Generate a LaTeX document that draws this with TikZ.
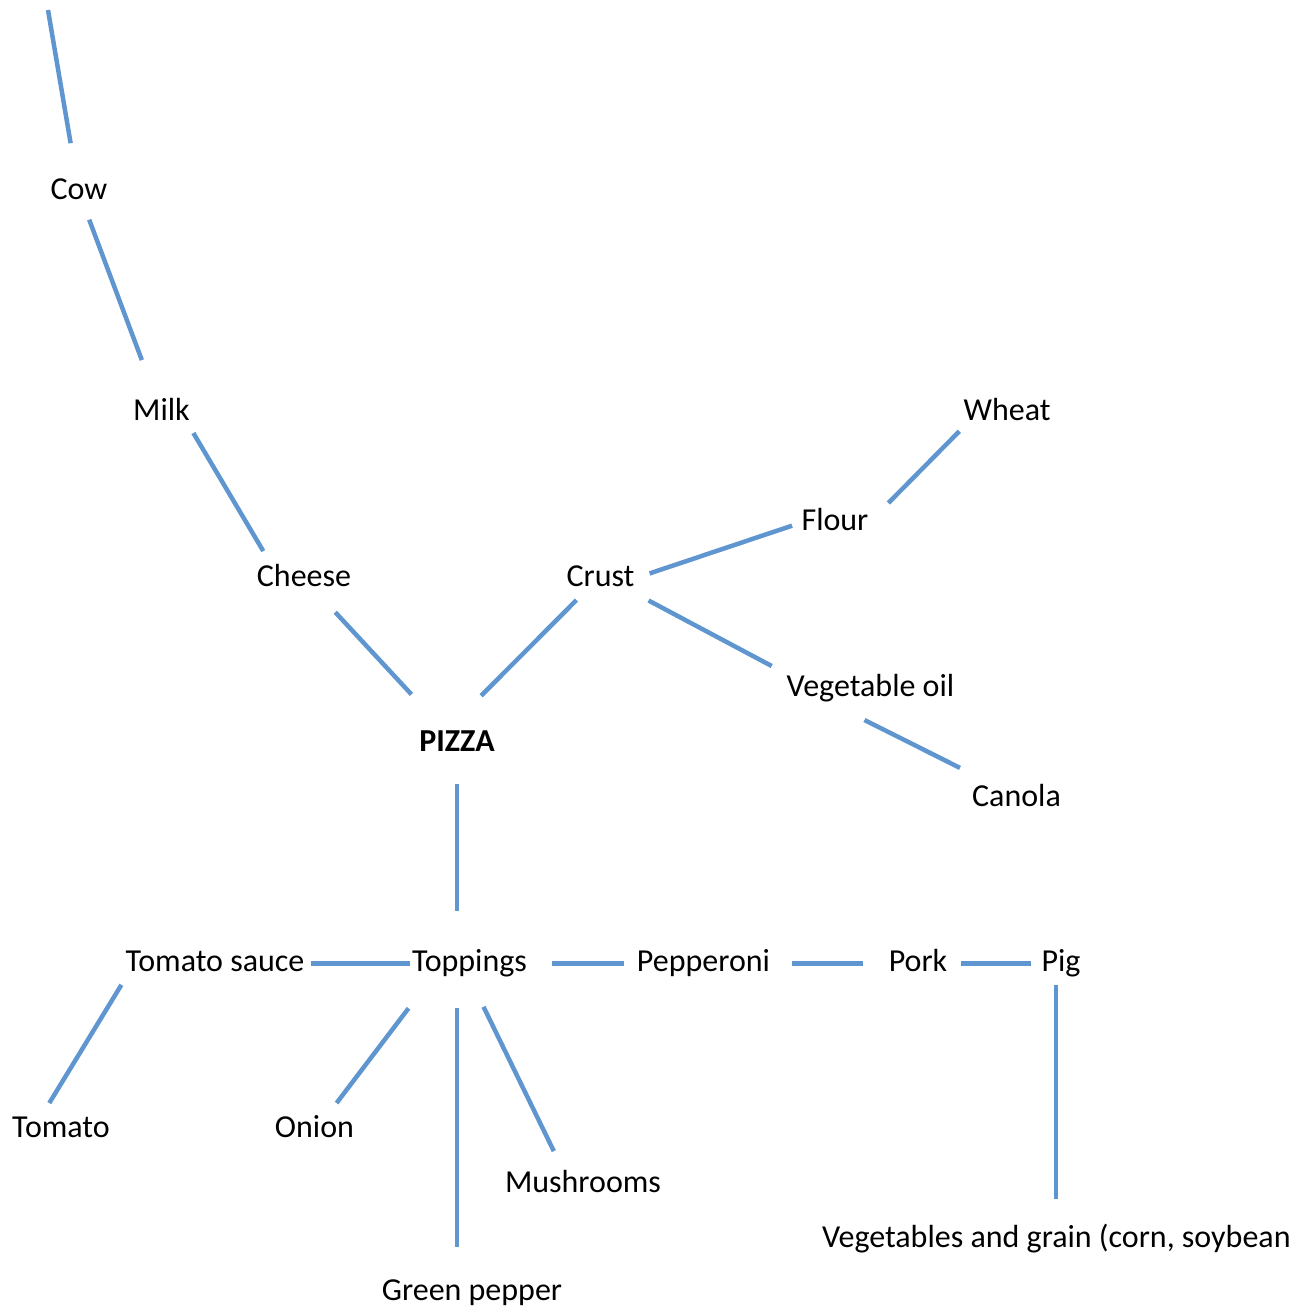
\documentclass[tikz,border=0pt]{standalone}
\usepackage{fontspec}
\setmainfont{Carlito}
\definecolor{linkblue}{RGB}{96,150,208}
\tikzset{
  lbl/.style={inner sep=0pt, outer sep=0pt, text height=22pt, text depth=7pt, anchor=base, font=\fontsize{32}{38}\selectfont},
  link/.style={draw=linkblue, line width=4.5pt}
}
\begin{document}
\begin{tikzpicture}[x=1pt,y=-1pt]
    \useasboundingbox (0,0) rectangle (1288,1308);

    \node[lbl] (cow) at (79,200) {Cow};
    \node[lbl] (milk) at (161.5,420) {Milk};
    \node[lbl] (cheese) at (304,586) {Cheese};
    \node[lbl] (crust) at (600.5,586) {Crust};
    \node[lbl] (flour) at (835,530) {Flour};
    \node[lbl] (wheat) at (1007,420) {Wheat};
    \node[lbl] (vegoil) at (870.5,696) {Vegetable oil};
    \node[lbl] (canola) at (1016.5,806) {Canola};
    \node[lbl,font=\fontsize{32}{38}\selectfont\bfseries] (pizza) at (457,751) {PIZZA};
    \node[lbl] (tsauce) at (215,971) {Tomato sauce};
    \node[lbl] (toppings) at (469.5,971) {Toppings};
    \node[lbl] (pepperoni) at (703.5,971) {Pepperoni};
    \node[lbl] (pork) at (918,971) {Pork};
    \node[lbl] (pig) at (1061,971) {Pig};
    \node[lbl] (tomato) at (61,1137) {Tomato};
    \node[lbl] (onion) at (314.5,1137) {Onion};
    \node[lbl] (mushrooms) at (583,1192) {Mushrooms};
    \node[lbl] (gpepper) at (472,1300) {Green pepper};
    \node[lbl,anchor=base west] (veggrain) at (822,1247) {Vegetables and grain (corn, soybeans)};
    \coordinate (top) at (48,10);

    % dairy side
    \draw[link,shorten >=50pt] (top) -- (cow.center);
    \draw[link,shorten <=29pt,shorten >=56pt] (cow.center) -- (milk.center);
    \draw[link,shorten <=7pt,shorten >=15pt] (milk.south east) -- ([xshift=14pt]cheese.north west);
    \draw[link,shorten <=46pt,shorten >=67pt] (cheese.center) -- (pizza.center);

    % crust side
    \draw[link,shorten <=10pt,shorten >=47pt] ([xshift=-17pt]crust.south) -- ([xshift=-9pt]pizza.north);
    \draw[link,shorten <=16pt,shorten >=10pt] (crust.east) -- (flour.west);
    \draw[link,shorten <=7pt,shorten >=6pt] ([xshift=15pt]flour.north east) -- (wheat.south west);
    \draw[link,shorten <=16pt,shorten >=17pt] (crust.south east) -- (vegoil.north west);
    \draw[link,shorten <=38pt,shorten >=36pt] ([xshift=-40pt]vegoil.south) -- ([xshift=20pt]canola.north west);

    % toppings
    \draw[link,shorten <=26pt,shorten >=38pt] (pizza.south) -- (pizza.south |- toppings.north);
    \draw[link,shorten <=7pt,shorten >=2pt] (tsauce.east) -- (toppings.west);
    \draw[link,shorten <=25pt,shorten >=13pt] (toppings.east) -- (pepperoni.west);
    \draw[link,shorten <=22pt,shorten >=26pt] (pepperoni.east) -- (pork.west);
    \draw[link,shorten <=14pt,shorten >=11pt] (pork.east) -- (pig.west);
    \draw[link,shorten <=8pt,shorten >=14pt] (tsauce.south west) -- ([xshift=-19pt]tomato.north);
    \draw[link,shorten <=38pt,shorten >=15pt] ([xshift=-38pt]toppings.south) -- ([xshift=13pt]onion.north);
    \draw[link,shorten <=30pt,shorten >=31pt] (toppings.south -| pizza) -- (gpepper.north -| pizza);
    \draw[link,shorten <=32pt,shorten >=21pt] (toppings.south) -- ([xshift=-20pt]mushrooms.north);
    \draw[link,shorten <=7pt,shorten >=26pt] ([xshift=-5pt]pig.south) -- ([xshift=-5pt]pig.south |- veggrain.north);
\end{tikzpicture}
\end{document}
